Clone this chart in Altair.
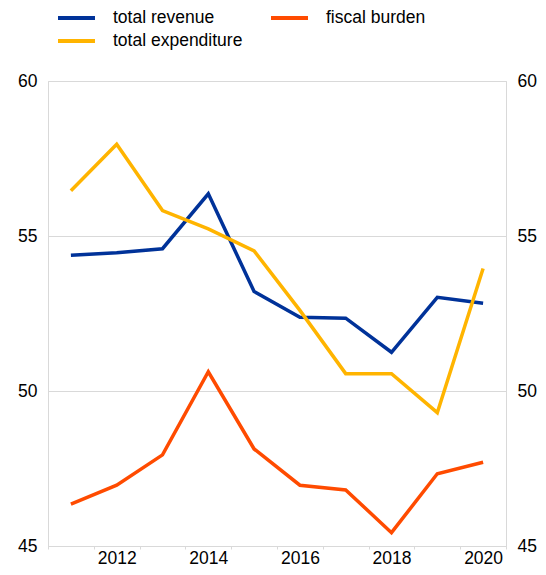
import altair as alt
import pandas as pd

years = list(range(2011, 2021))
total_revenue = [54.38, 54.46, 54.59, 56.36, 53.21, 52.38, 52.35, 51.25, 53.02, 52.83]
total_expenditure = [56.46, 57.96, 55.82, 55.23, 54.52, 52.60, 50.56, 50.56, 49.30, 53.95]
fiscal_burden = [46.35, 46.96, 47.94, 50.62, 48.13, 46.96, 46.81, 45.43, 47.33, 47.70]

series_names = ["total revenue", "total expenditure", "fiscal burden"]
series_values = [total_revenue, total_expenditure, fiscal_burden]
series_colors = ["#003299", "#FFB400", "#FF4B00"]
y_ticks = [45, 50, 55, 60]

rows = []
for order, (name, vals) in enumerate(zip(series_names, series_values)):
    for yr, v in zip(years, vals):
        rows.append({"year": yr, "value": v, "series": name, "order": order})
df = pd.DataFrame(rows)

GRID = "#d9d9d9"

x_enc = alt.X(
    "year:O",
    bandPosition=0.5,
    scale=alt.Scale(type="band", paddingInner=0, paddingOuter=0),
    axis=alt.Axis(
        title=None,
        labelExpr="datum.value % 2 == 0 ? datum.label : ''",
        labelAngle=0,
        labelOverlap=False,
        tickBand="extent",
        grid=False,
        domainColor=GRID,
        tickColor=GRID,
        tickSize=3,
        labelPadding=0,
    ),
)

y_scale = alt.Scale(domain=[45, 60], nice=False, zero=False)

lines = alt.Chart(df).mark_line(strokeWidth=3.5).encode(
    x=x_enc,
    y=alt.Y(
        "value:Q",
        scale=y_scale,
        axis=alt.Axis(
            title=None, values=y_ticks, orient="left", grid=True,
            gridColor=GRID, domainColor=GRID, ticks=False, labelPadding=11,
        ),
    ),
    color=alt.Color(
        "series:N",
        scale=alt.Scale(domain=series_names, range=series_colors),
        legend=alt.Legend(
            title=None, orient="none", legendX=17, legendY=-74.5, columns=2,
            symbolType="M-2,0H2", symbolSize=342, symbolStrokeWidth=4,
            symbolFillColor="transparent",
            labelFontSize=17.5, labelOffset=25, columnPadding=20, rowPadding=3,
            labelColor="#000",
        ),
    ),
    order=alt.Order("order:Q"),
)

right = alt.Chart(df).mark_line(opacity=0).encode(
    x=x_enc,
    y=alt.Y(
        "value:Q",
        scale=y_scale,
        axis=alt.Axis(
            title=None, values=y_ticks, orient="right", grid=False,
            domainColor=GRID, ticks=False, labelPadding=11,
        ),
    ),
    detail="series:N",
)

chart = alt.layer(lines, right).resolve_scale(y="independent").properties(
    width=458,
    height=465,
    padding={"left": 40, "top": 73, "right": 32, "bottom": 21},
    autosize=alt.AutoSizeParams(type="none"),
).configure_view(stroke=None).configure(
    font="Liberation Sans"
).configure_axis(
    labelFontSize=17.5, labelColor="#000", labelFont="Liberation Sans"
).configure_legend(labelFont="Liberation Sans")

chart.save("out.html", embed_options={"renderer": "svg", "actions": False})
